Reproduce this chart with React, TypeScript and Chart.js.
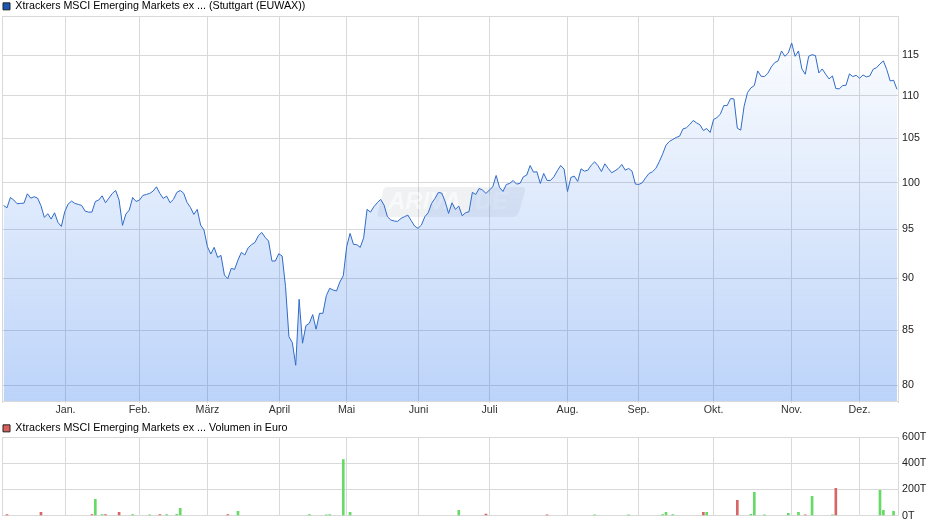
import React, { useEffect, useRef } from "react";
import { Chart, registerables } from "chart.js";

Chart.register(...registerables);

const priceLabel = "Xtrackers MSCI Emerging Markets ex ... (Stuttgart (EUWAX))";
const volumeLabel = "Xtrackers MSCI Emerging Markets ex ... Volumen in Euro";

const prices = [
  97.52,97.27,98.38,98.10,97.70,97.74,97.77,98.78,98.31,98.46,98.31,97.49,96.25,96.64,96.07,96.74,95.72,95.30,96.85,97.67,
  97.99,97.74,97.63,97.52,96.92,96.81,96.81,97.95,98.10,98.56,97.81,98.31,98.82,99.14,98.10,95.41,96.60,97.03,98.38,97.95,
  98.10,98.60,98.71,98.82,99.07,99.54,98.82,98.28,98.53,97.81,98.17,98.93,99.14,98.85,97.85,97.31,96.56,97.10,95.44,94.92,
  93.20,92.45,93.13,92.11,92.31,90.34,89.98,91.00,90.90,91.84,92.62,92.35,93.09,93.40,93.64,94.33,94.67,94.16,93.78,91.74,
  91.74,92.48,92.24,89.19,84.42,83.87,81.80,87.96,83.81,85.45,85.67,86.49,85.11,86.61,86.61,88.31,89.03,88.86,88.77,89.65,
  90.27,93.20,94.57,93.44,93.40,93.13,94.12,97.10,96.81,97.38,97.81,98.17,97.56,96.32,95.97,95.86,95.83,96.14,96.32,96.49,
  95.90,95.33,95.09,95.44,96.32,96.74,97.74,98.28,98.93,98.85,97.92,96.67,97.81,97.10,97.45,96.42,96.74,96.85,98.93,98.71,
  99.36,99.18,98.82,99.18,99.54,100.79,99.47,99.03,99.80,99.91,100.24,99.84,99.91,100.64,100.83,101.90,101.16,101.20,99.91,101.01,
  100.24,100.24,100.64,101.31,101.90,101.49,99.03,100.57,100.72,100.13,101.53,101.27,101.38,101.94,102.31,101.87,101.23,102.09,101.57,101.09,
  101.31,101.57,102.02,101.38,101.57,101.27,99.84,99.80,99.98,100.53,101.01,101.20,101.57,102.31,103.18,104.20,104.63,104.86,105.09,105.24,
  106.09,106.21,106.60,107.07,106.79,106.56,105.90,106.13,105.67,107.18,107.42,107.81,108.84,108.84,109.68,109.64,106.17,105.94,108.77,110.41,
  110.98,111.26,113.07,112.41,112.37,112.78,113.57,114.11,114.32,115.58,114.90,115.32,116.60,114.90,115.58,113.32,112.66,114.90,115.11,114.99,
  112.82,113.32,112.66,112.08,112.45,110.90,110.86,111.26,111.30,112.70,112.37,112.53,112.16,112.57,112.33,112.45,113.28,113.48,113.94,114.32,
  113.23,111.83,111.92,110.81,
];

const monthNames = ["Jan.","Feb.","März","April","Mai","Juni","Juli","Aug.","Sep.","Okt.","Nov.","Dez."];
const monthDays = [18.22,40.01,60.0,81.22,100.95,122.14,143.05,166.02,186.92,209.0,231.95,251.97];
const priceTicks = [80,85,90,95,100,105,110,115];
const volumeTicks = [0,200,400,600];

const upDays = [27,29,38,43,48,51,52,69,90,95,96,100,102,134,174,184,194,195,197,207,220,221,224,231,234,238,244,258,259,262];
const upVolumes = [124,8,8,6,7,10,56,33,8,6,7,428,25,40,6,6,7,25,7,25,10,177,6,18,25,147,6,192,40,33];
const downDays = [1,11,26,30,34,46,66,142,160,206,216,236,245];
const downVolumes = [8,25,8,8,25,7,7,11,6,25,116,6,208];

const FONT = "'Liberation Sans', Arial, sans-serif";
const FONT_SIZE = 10.7;
const GRID = "#d9d9d9";
const DAY_MIN = -0.47;
const DAY_MAX = 263.3;

const watermark = {
  id: "watermark",
  beforeDatasetsDraw(chart: any) {
    const c = chart.ctx;
    c.save();
    c.beginPath();
    c.moveTo(387, 187);
    c.lineTo(522, 187);
    c.quadraticCurveTo(526, 187, 525, 191);
    c.lineTo(519, 212);
    c.quadraticCurveTo(517, 217, 512, 217);
    c.lineTo(381, 217);
    c.quadraticCurveTo(376, 217, 378, 212);
    c.lineTo(383, 191);
    c.quadraticCurveTo(384, 187, 387, 187);
    c.closePath();
    c.fillStyle = "rgba(110,120,140,0.10)";
    c.fill();
    c.font = `italic bold 24px ${FONT}`;
    c.textBaseline = "middle";
    c.textAlign = "left";
    c.fillStyle = "rgba(255,255,255,0.55)";
    c.fillText("ARIVA", 388, 202);
    c.fillStyle = "rgba(255,255,255,0.3)";
    c.fillText(".DE", 468, 202);
    c.restore();
  },
};

const legendOptions = (text: string, fill: string, maxHeight: number) => ({
  display: true,
  position: "top" as const,
  align: "start" as const,
  maxHeight,
  labels: {
    boxWidth: 7,
    boxHeight: 7,
    padding: 1,
    color: "#222",
    font: { family: FONT, size: FONT_SIZE },
    generateLabels: () => [
      { text, fillStyle: fill, strokeStyle: "#222", lineWidth: 1, datasetIndex: 0 },
    ],
  },
});

const xScale = (height: number, showLabels: boolean) => ({
  type: "linear" as const,
  min: DAY_MIN,
  max: DAY_MAX,
  offset: false,
  afterBuildTicks(scale: any) {
    scale.ticks = [DAY_MIN, ...monthDays, DAY_MAX].map((value) => ({ value }));
  },
  afterFit(scale: any) {
    scale.height = height;
  },
  grid: { color: GRID, lineWidth: 1, drawTicks: showLabels, tickLength: 2, tickColor: GRID, offset: false },
  border: { display: false },
  ticks: {
    autoSkip: false,
    maxRotation: 0,
    padding: 0.5,
    color: "#333",
    font: { family: FONT, size: FONT_SIZE },
    callback: (value: number) => {
      const idx = monthDays.indexOf(value);
      return showLabels && idx >= 0 ? monthNames[idx] : "";
    },
  },
});

export default function App() {
  const topRef = useRef<HTMLCanvasElement>(null);
  const bottomRef = useRef<HTMLCanvasElement>(null);

  useEffect(() => {
    const priceMin = 78.65;
    const priceMax = 120.11;
    const top = new Chart(topRef.current!, {
      type: "line",
      data: {
        datasets: [
          {
            label: priceLabel,
            data: prices.map((y, x) => ({ x, y })),
            borderColor: "#2f6bc8",
            borderWidth: 1,
            pointRadius: 0,
            tension: 0,
            fill: "start",
            backgroundColor: (ctx: any) => {
              const area = ctx.chart.chartArea;
              if (!area) return "transparent";
              const g = ctx.chart.ctx.createLinearGradient(0, area.top, 0, area.bottom);
              g.addColorStop(0, "rgba(25,105,235,0)");
              g.addColorStop(1, "rgba(25,105,235,0.29)");
              return g;
            },
          },
        ],
      },
      options: {
        responsive: false,
        animation: false,
        layout: { padding: { left: 2, top: 0, right: 0, bottom: 0 } },
        plugins: {
          legend: legendOptions(priceLabel, "#1a56b4", 16),
          tooltip: { enabled: false },
        },
        scales: {
          x: xScale(19, true),
          y: {
            type: "logarithmic",
            position: "right",
            min: priceMin,
            max: priceMax,
            afterBuildTicks(scale: any) {
              scale.ticks = [priceMin, ...priceTicks, priceMax].map((value) => ({ value }));
            },
            afterFit(scale: any) {
              scale.width = 42;
            },
            grid: { color: GRID, lineWidth: 1, drawTicks: false },
            border: { display: false },
            ticks: {
              autoSkip: false,
              padding: 4,
              color: "#222",
              font: { family: FONT, size: FONT_SIZE },
              callback: (value: number) => (priceTicks.includes(value) ? String(value) : ""),
            },
          },
        },
      },
      plugins: [watermark],
    } as any);

    const bottom = new Chart(bottomRef.current!, {
      type: "bar",
      data: {
        datasets: [
          {
            label: volumeLabel,
            data: upDays.map((x, i) => ({ x, y: upVolumes[i] })),
            backgroundColor: "#66d966",
            barThickness: 2,
            grouped: false,
          },
          {
            label: volumeLabel,
            data: downDays.map((x, i) => ({ x, y: downVolumes[i] })),
            backgroundColor: "#d96666",
            barThickness: 2,
            grouped: false,
          },
        ],
      },
      options: {
        responsive: false,
        animation: false,
        layout: { padding: { left: 2, top: 0, right: 0, bottom: 0 } },
        plugins: {
          legend: legendOptions(volumeLabel, "#d9605c", 15),
          tooltip: { enabled: false },
        },
        scales: {
          x: xScale(9.5, false),
          y: {
            type: "linear",
            position: "right",
            min: 0,
            max: 600,
            afterBuildTicks(scale: any) {
              scale.ticks = volumeTicks.map((value) => ({ value }));
            },
            afterFit(scale: any) {
              scale.width = 42;
            },
            grid: { color: GRID, lineWidth: 1, drawTicks: false },
            border: { display: false },
            ticks: {
              autoSkip: false,
              padding: 4,
              color: "#222",
              font: { family: FONT, size: FONT_SIZE },
              callback: (value: number) => `${value}T`,
            },
          },
        },
      },
    } as any);

    return () => {
      top.destroy();
      bottom.destroy();
    };
  }, []);

  return (
    <div style={{ position: "fixed", left: 0, top: 0, width: 940, height: 526, background: "#fff", overflow: "hidden" }}>
      <canvas ref={topRef} width={940} height={420} style={{ position: "absolute", left: 0, top: 0, display: "block" }} />
      <canvas ref={bottomRef} width={940} height={104} style={{ position: "absolute", left: 0, top: 422, display: "block" }} />
    </div>
  );
}
